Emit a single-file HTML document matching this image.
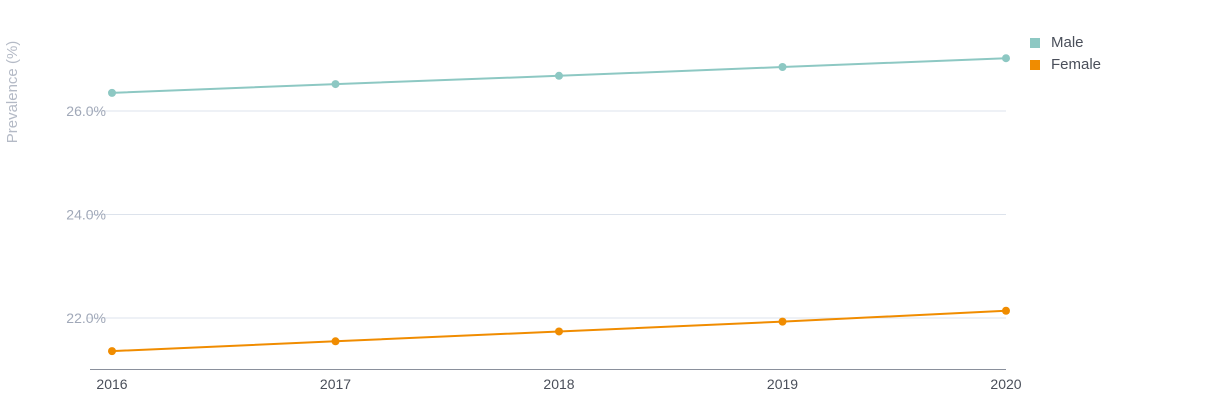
<!DOCTYPE html>
<html><head><meta charset="utf-8"><style>
body{margin:0;background:#fff;font-family:"Liberation Sans",sans-serif}
svg text{font-family:"Liberation Sans",sans-serif}
</style></head><body>
<svg id="chart" width="1230" height="403" xmlns="http://www.w3.org/2000/svg">
<text transform="translate(17,92) rotate(-90)" text-anchor="middle" font-size="15" fill="#b4bac6">Prevalence (%)</text>
<g id="grid"></g><g id="series"></g>
<g>
<rect x="1030" y="38" width="10" height="10" fill="#8dc8c3"/>
<text x="1051" y="47" font-size="15" fill="#4a4f5a">Male</text>
<rect x="1030" y="60" width="10" height="10" fill="#f08c00"/>
<text x="1051" y="69" font-size="15" fill="#4a4f5a">Female</text>
</g>
</svg>
<script>
const years=[2016,2017,2018,2019,2020];
const male=[26.35,26.52,26.68,26.85,27.02];
const female=[21.36,21.55,21.74,21.93,22.14];
const yTicks=[22,24,26];
const yTickLabels=["22.0%","24.0%","26.0%"];
const NS="http://www.w3.org/2000/svg";
const x=i=>112+i*(1006-112)/(years.length-1);
const y=v=>111-(v-26)*51.75;
function mk(t,a,p){const e=document.createElementNS(NS,t);for(const k in a)e.setAttribute(k,a[k]);p.appendChild(e);return e;}
const g=document.getElementById('grid'),s=document.getElementById('series');
yTicks.forEach((v,i)=>{
 const l=mk('line',{x1:87,x2:1006,y1:y(v),y2:y(v),stroke:'#dde3ec','stroke-width':1},g);
 
 
 const t=mk('text',{x:106,y:y(v)+5,'text-anchor':'end','font-size':14,fill:'#a0a8b8'},g);
 t.textContent=yTickLabels[i];
 
 
});
const ax=mk('line',{x1:90,x2:1006,y1:369.5,y2:369.5,stroke:'#8a909c','stroke-width':1},g);


years.forEach((yr,i)=>{
 const t=mk('text',{x:x(i),y:389,'text-anchor':'middle','font-size':14,fill:'#4a4f5a'},g);
 t.textContent=yr;
 
 
});
[[male,'#8dc8c3','male'],[female,'#f08c00','female']].forEach(([d,c,n])=>{
 const p=mk('polyline',{points:d.map((v,i)=>x(i)+','+y(v)).join(' '),fill:'none',stroke:c,'stroke-width':2},s);
 
 
 d.forEach((v,i)=>{
  const c2=mk('circle',{cx:x(i),cy:y(v),r:4,fill:c},s);
  
  
 });
});
</script>
</body></html>
